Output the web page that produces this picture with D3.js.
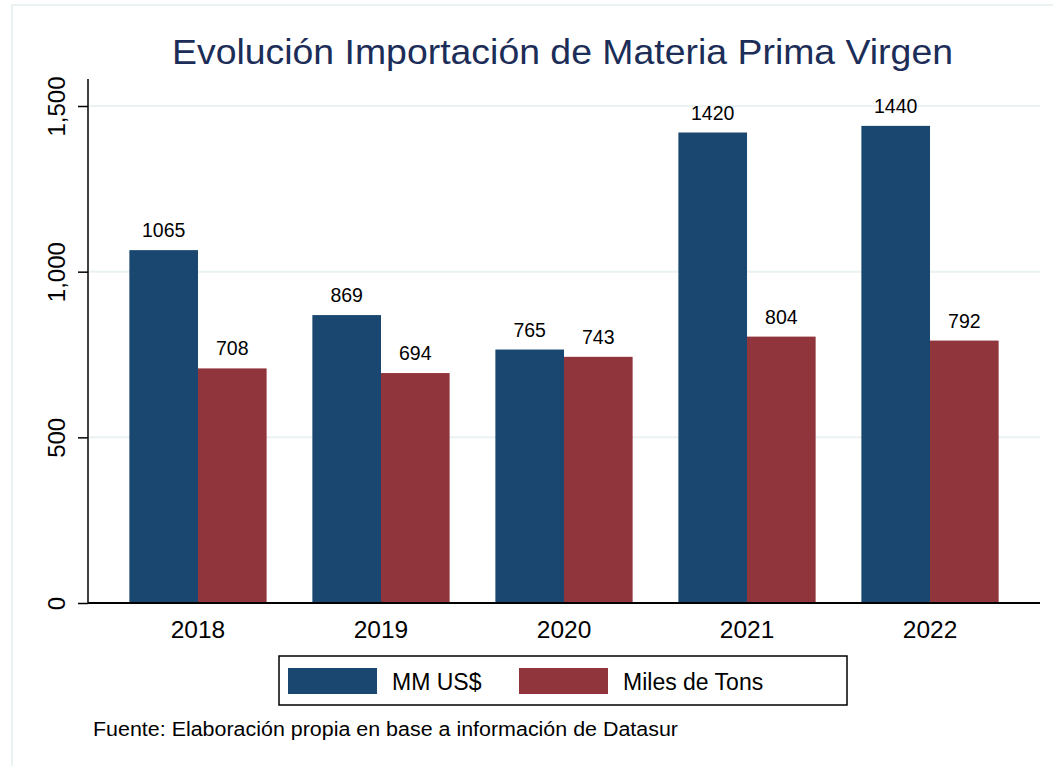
<!DOCTYPE html>
<html>
<head>
<meta charset="utf-8">
<script src="https://cdn.jsdelivr.net/npm/d3@7"></script>
<style>
  body { margin: 0; background: #fff; }
  text { font-family: "Liberation Sans", Arial, sans-serif; }
</style>
</head>
<body>
<div id="chart"></div>
<script>
let years = ["2018", "2019", "2020", "2021", "2022"]
let series_names = ["MM US$", "Miles de Tons"]
let usd_values = [1065, 869, 765, 1420, 1440]
let tons_values = [708, 694, 743, 804, 792]
let y_ticks = [0, 500, 1000, 1500]

let colors = ["#1a476f", "#90353b"]
let width = 1053, height = 766

let svg = d3.select("#chart").append("svg")
    .attr("width", width)
    .attr("height", height)

// outer frame
svg.append("rect")
    .attr("x", 12).attr("y", 5)
    .attr("width", 1060).attr("height", 800)
    .style("fill", "none")
    .style("stroke", "#eaf2f3")
    .style("stroke-width", 2)

let x = d3.scaleBand()
    .domain(years)
    .range([88, 1040])
    .paddingInner(0.25)
    .paddingOuter(0.226)

let x_inner = d3.scaleBand()
    .domain([0, 1])
    .range([0, x.bandwidth()])

let y = d3.scaleLinear()
    .domain([0, 1500])
    .range([603, 106])

// gridlines
svg.append("g").selectAll("line")
    .data(y_ticks.filter((d) => d > 0))
    .enter().append("line")
    .attr("x1", 89).attr("x2", 1040)
    .attr("y1", (d) => y(d)).attr("y2", (d) => y(d))
    .style("stroke", "#eaf2f3")
    .style("stroke-width", 2)

// bars
let rows = years.map((yr, i) => ({ year: yr, vals: [usd_values[i], tons_values[i]] }))

let groups = svg.selectAll(".grp")
    .data(rows)
    .enter().append("g")
    .attr("class", "grp")
    .attr("transform", (d) => "translate(" + x(d.year) + ",0)")

groups.selectAll("rect")
    .data((d) => d.vals.map((v, k) => ({ k: k, v: v })))
    .enter().append("rect")
    .attr("x", (d) => x_inner(d.k))
    .attr("width", x_inner.bandwidth())
    .attr("y", (d) => y(d.v))
    .attr("height", (d) => y(0) - y(d.v))
    .style("fill", (d) => colors[d.k])

groups.selectAll("text")
    .data((d) => d.vals.map((v, k) => ({ k: k, v: v })))
    .enter().append("text")
    .attr("x", (d) => x_inner(d.k) + x_inner.bandwidth() / 2)
    .attr("y", (d) => y(d.v) - 13)
    .attr("text-anchor", "middle")
    .style("font-size", "19.5px")
    .style("fill", "#000")
    .text((d) => d.v)

// y axis
let y_axis = svg.append("g")
    .attr("transform", "translate(88,0)")
    .call(d3.axisLeft(y).tickValues(y_ticks).tickSize(10).tickFormat(d3.format(",")))
y_axis.select(".domain").attr("d", "M0,79V603").style("stroke", "#000").style("stroke-width", 1.5)
y_axis.selectAll(".tick line").style("stroke", "#000").style("stroke-width", 1.5)
y_axis.selectAll(".tick text")
    .attr("transform", "rotate(-90)")
    .attr("x", 0).attr("y", -23)
    .attr("dy", 0)
    .attr("text-anchor", "middle")
    .style("font-size", "24px")
    .style("font-family", "'Liberation Sans', Arial, sans-serif")
    .style("fill", "#000")

// x axis
let x_axis = svg.append("g")
    .attr("transform", "translate(0,603)")
    .call(d3.axisBottom(x).tickSize(0))
x_axis.select(".domain").attr("d", "M88,0H1040").style("stroke", "#000").style("stroke-width", 2)
x_axis.selectAll(".tick text")
    .attr("y", 35).attr("dy", 0)
    .style("font-size", "24.5px")
    .style("font-family", "'Liberation Sans', Arial, sans-serif")
    .style("fill", "#000")

// title
svg.append("text")
    .attr("x", 562.5).attr("y", 64)
    .attr("text-anchor", "middle")
    .attr("textLength", 781)
    .attr("lengthAdjust", "spacingAndGlyphs")
    .style("font-size", "35px")
    .style("fill", "#1c2d58")
    .text("Evolución Importación de Materia Prima Virgen")

// legend
svg.append("rect")
    .attr("x", 279).attr("y", 656)
    .attr("width", 568).attr("height", 49)
    .style("fill", "#fff")
    .style("stroke", "#000")
    .style("stroke-width", 1.5)
let legend_x = [288, 519]
let legend_items = svg.append("g").selectAll(".item")
    .data(series_names)
    .enter().append("g")
    .attr("class", "item")
legend_items.append("rect")
    .attr("x", (d, i) => legend_x[i]).attr("y", 668)
    .attr("width", 89).attr("height", 26)
    .style("fill", (d, i) => colors[i])
legend_items.append("text")
    .attr("x", (d, i) => legend_x[i] + 104).attr("y", 690)
    .style("font-size", "23px")
    .style("fill", "#000")
    .text((d) => d)

// footer
svg.append("text")
    .attr("x", 93).attr("y", 736)
    .attr("textLength", 585)
    .attr("lengthAdjust", "spacingAndGlyphs")
    .style("font-size", "20px")
    .style("fill", "#000")
    .text("Fuente: Elaboración propia en base a información de Datasur")
</script>
</body>
</html>
